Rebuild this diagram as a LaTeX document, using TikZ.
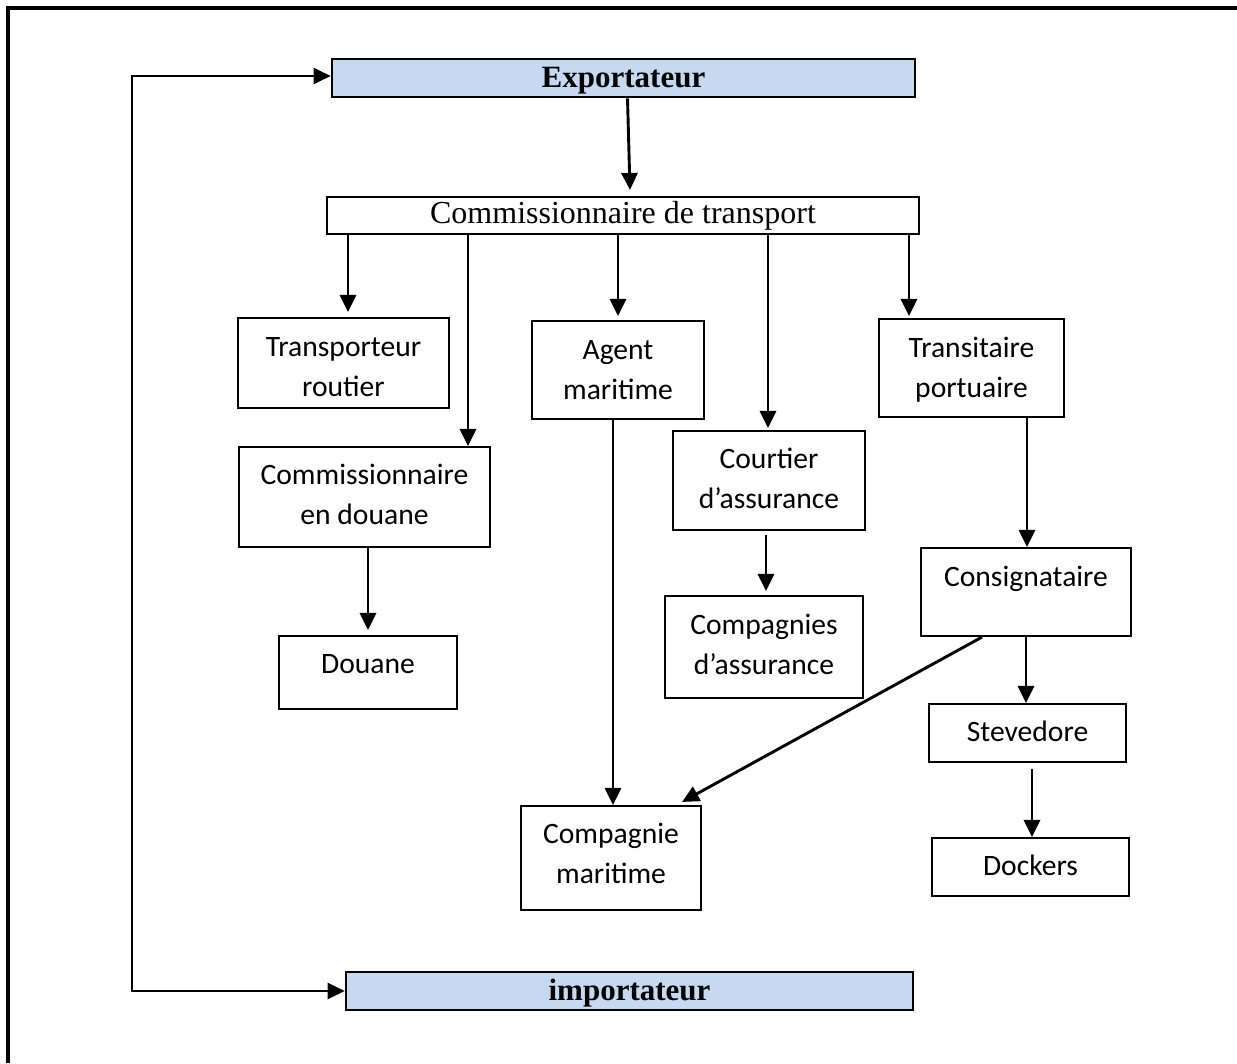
\documentclass[tikz,border=0pt]{standalone}
\usepackage{fontspec}
\setmainfont{Liberation Serif}
\newfontfamily\boxfont{Carlito}
\usetikzlibrary{arrows.meta}
\definecolor{actorblue}{RGB}{198,217,241}
\begin{document}
\begin{tikzpicture}[x=1pt,y=-1pt,
  >={Triangle[length=17pt,width=16pt]},
  box/.style={draw, line width=2.1pt, inner sep=0pt, rectangle},
  actor/.style={box, fill=actorblue, line width=2.6pt},
  lbl/.style={inner sep=0pt, align=center, anchor=base,
    font=\boxfont\fontsize{29.6}{40}\selectfont},
  head/.style={inner sep=0pt, anchor=base},
  arr/.style={line width=2.9pt, ->},
]
\useasboundingbox (0,0) rectangle (1237,1063);
% page frame
\draw[line width=3.2pt] (1237,8) -- (8,8) -- (8,1063);

% boxes
\node[actor, minimum width=583pt, minimum height=38pt] (exp) at (623.5,78) {};
\node[box, minimum width=592pt, minimum height=37pt] (ct) at (623,215.5) {};
\node[box, minimum width=211pt, minimum height=90pt] (tr) at (343.5,363) {};
\node[box, minimum width=172pt, minimum height=98pt] (am) at (618,370) {};
\node[box, minimum width=185pt, minimum height=98pt] (tp) at (971.5,368) {};
\node[box, minimum width=251pt, minimum height=100pt] (cd) at (364.5,497) {};
\node[box, minimum width=192pt, minimum height=99pt] (co) at (769,480.5) {};
\node[box, minimum width=210pt, minimum height=88pt] (cs) at (1026,592) {};
\node[box, minimum width=178pt, minimum height=73pt] (dn) at (368,672.5) {};
\node[box, minimum width=198pt, minimum height=102pt] (ca) at (764,647) {};
\node[box, minimum width=197pt, minimum height=58pt] (st) at (1027.5,733) {};
\node[box, minimum width=180pt, minimum height=104pt] (cm) at (611,858) {};
\node[box, minimum width=197pt, minimum height=58pt] (dk) at (1030.5,867) {};
\node[actor, minimum width=567pt, minimum height=38pt] (imp) at (629.5,991) {};

% labels (base anchor sits on the last line)
\node[head, font=\bfseries\fontsize{31}{36}\selectfont] (exp-t) at ([yshift=-30pt]exp.north) {Exportateur};
\node[head, font=\fontsize{32}{38}\selectfont] (ct-t) at ([yshift=-28pt]ct.north) {Commissionnaire de transport};
\node[head, font=\bfseries\fontsize{31}{36}\selectfont] (imp-t) at ([yshift=-30pt]imp.north) {importateur};
\node[lbl] (tr-t) at ([yshift=-80pt]tr.north) {Transporteur\\routier};
\node[lbl] (am-t) at ([yshift=-80pt]am.north) {Agent\\maritime};
\node[lbl] (tp-t) at ([yshift=-80pt]tp.north) {Transitaire\\portuaire};
\node[lbl] (cd-t) at ([yshift=-79pt]cd.north) {Commissionnaire\\en douane};
\node[lbl] (co-t) at ([yshift=-79pt]co.north) {Courtier\\d’assurance};
\node[lbl] (cs-t) at ([yshift=-40pt]cs.north) {Consignataire};
\node[lbl] (dn-t) at ([yshift=-39pt]dn.north) {Douane};
\node[lbl] (ca-t) at ([yshift=-80pt]ca.north) {Compagnies\\d’assurance};
\node[lbl] (st-t) at ([yshift=-39pt]st.north) {Stevedore};
\node[lbl] (cm-t) at ([yshift=-79pt]cm.north) {Compagnie\\maritime};
\node[lbl] (dk-t) at ([yshift=-39pt]dk.north) {Dockers};

% connectors
\coordinate (loop) at (132,76);
\draw[line width=2.2pt, <->] ([yshift=2pt]exp.west) -- (loop) |- (imp.west);
\draw[arr] ([xshift=4pt]exp.south) -- ([xshift=7pt,yshift=6pt]ct.north);
\draw[arr] ([xshift=4.5pt]tr.north |- ct.south) -- ([xshift=4.5pt,yshift=5pt]tr.north);
\draw[arr] ([xshift=103.5pt]cd.north |- ct.south) -- ([xshift=103.5pt]cd.north);
\draw[arr] (am.north |- ct.south) -- ([yshift=4pt]am.north);
\draw[arr] ([xshift=-1pt]co.north |- ct.south) -- ([xshift=-1pt,yshift=2pt]co.north);
\draw[arr] ([xshift=-62.5pt]tp.north |- ct.south) -- ([xshift=-62.5pt,yshift=2pt]tp.north);
\draw[arr] ([xshift=2pt]cm.north |- am.south) -- ([xshift=2pt]cm.north);
\draw[arr] (dn.north |- cd.south) -- ([yshift=5pt]dn.north);
\draw[arr] ([xshift=2pt,yshift=-4pt]ca.north |- co.south) -- ([xshift=2pt,yshift=4pt]ca.north);
\draw[arr] ([xshift=1pt]cs.north |- tp.south) -- ([xshift=1pt]cs.north);
\draw[arr] ([xshift=-44pt]cs.south) -- ([xshift=71pt,yshift=3pt]cm.north);
\draw[arr] ([xshift=-1.5pt]st.north |- cs.south) -- ([xshift=-1.5pt]st.north);
\draw[arr] ([xshift=1.5pt,yshift=-6pt]dk.north |- st.south) -- ([xshift=1.5pt]dk.north);
\end{tikzpicture}
\end{document}
